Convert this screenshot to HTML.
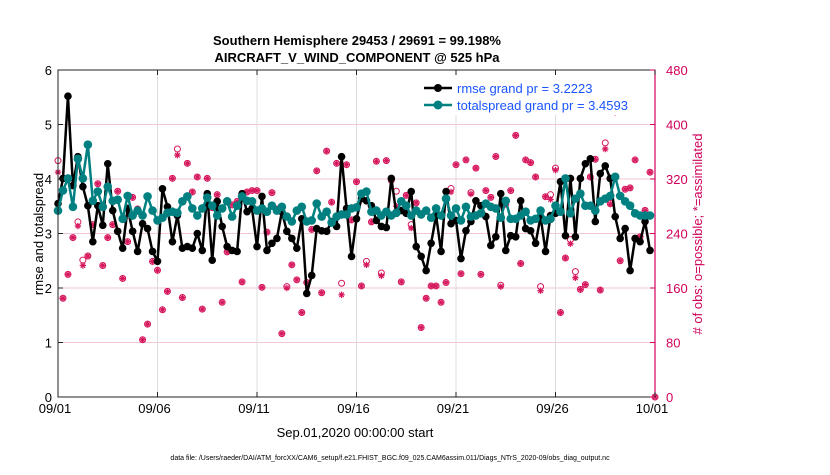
<!DOCTYPE html>
<html><head><meta charset="utf-8"><style>
body{margin:0;background:#fff;width:830px;height:470px;overflow:hidden;font-family:"Liberation Sans",sans-serif}
</style></head><body>
<svg id="chart" width="830" height="470" xmlns="http://www.w3.org/2000/svg" font-family="Liberation Sans, sans-serif">
<text x="357" y="45" text-anchor="middle" font-size="13" font-weight="bold">Southern Hemisphere 29453 / 29691 = 99.198%</text>
<text x="357" y="62" text-anchor="middle" font-size="13" font-weight="bold">AIRCRAFT_V_WIND_COMPONENT @ 525 hPa</text>
<g id="grid"></g>
<g id="obs"></g>
<g id="series"></g>
<rect x="58" y="70" width="597" height="327" fill="none" stroke="#222" stroke-width="1"/>
<line x1="655" y1="70" x2="655" y2="397" stroke="#d0005a" stroke-width="1.2"/>
<g id="axes"></g>
<text transform="translate(43,234) rotate(-90)" text-anchor="middle" font-size="13">rmse and totalspread</text>
<text transform="translate(702,234) rotate(-90)" text-anchor="middle" font-size="13" fill="#d0005a"># of obs: o=possible; *=assimilated</text>
<text x="355" y="437" text-anchor="middle" font-size="13">Sep.01,2020 00:00:00 start</text>
<text x="390" y="460" text-anchor="middle" font-size="7">data file: /Users/raeder/DAI/ATM_forcXX/CAM6_setup/f.e21.FHIST_BGC.f09_025.CAM6assim.011/Diags_NTrS_2020-09/obs_diag_output.nc</text>
<g>
<rect x="420" y="75" width="234" height="40" fill="#fff"/>
<line x1="424" y1="88" x2="452" y2="88" stroke="#000" stroke-width="2.5"/>
<circle cx="438" cy="88" r="4" fill="#000"/>
<text x="457" y="93" font-size="13" fill="#1a55ff">rmse grand pr = 3.2223</text>
<line x1="424" y1="105" x2="452" y2="105" stroke="#008080" stroke-width="2.5"/>
<circle cx="438" cy="105" r="4.5" fill="#008080"/>
<text x="457" y="110" font-size="13" fill="#1a55ff">totalspread grand pr = 3.4593</text>
</g>
</svg>
<script>
const rmse=[3.55,4.01,5.52,3.88,4.41,3.86,3.51,2.85,3.51,3.15,4.28,3.42,3.04,2.73,3.46,3.04,2.67,3.18,3.09,2.67,2.49,3.82,3.49,2.85,3.33,2.73,2.76,2.73,3.00,2.69,3.73,2.51,3.59,3.13,2.76,2.69,2.67,3.73,3.40,3.46,
2.76,3.68,2.69,2.82,2.91,3.40,3.04,2.91,2.73,3.27,1.90,2.23,3.09,3.05,3.04,3.22,3.13,4.41,3.46,2.58,3.27,3.64,3.60,3.51,3.24,3.13,3.11,4.01,3.37,3.42,3.37,3.77,2.76,2.58,2.32,2.82,3.33,2.67,3.77,3.18,
3.24,2.54,3.05,3.22,3.60,3.51,3.31,2.78,2.94,3.73,2.69,2.96,2.94,3.60,3.09,3.05,2.82,3.31,2.67,3.33,3.37,3.95,2.96,4.01,2.94,4.01,4.28,4.37,3.22,4.10,4.24,4.01,3.31,2.91,3.09,2.32,2.91,2.85,3.22,2.69];
const spread=[3.42,3.79,4.01,3.49,4.37,4.01,4.63,3.60,3.77,3.49,3.86,3.60,3.62,3.27,3.69,3.33,3.42,3.33,3.68,3.42,3.24,3.29,3.38,3.40,3.38,3.59,3.68,3.46,3.33,3.46,3.66,3.51,3.33,3.46,3.59,3.31,3.51,3.68,3.60,3.59,
3.42,3.46,3.40,3.51,3.42,3.49,3.31,3.22,3.42,3.49,3.22,3.24,3.55,3.31,3.40,3.20,3.31,3.35,3.35,3.46,3.48,3.73,3.77,3.40,3.42,3.33,3.40,3.33,3.38,3.59,3.51,3.33,3.42,3.35,3.42,3.29,3.46,3.33,3.64,3.33,
3.46,3.24,3.49,3.31,3.33,3.37,3.55,3.49,3.46,3.29,3.60,3.27,3.27,3.33,3.40,3.24,3.27,3.42,3.24,3.27,3.51,3.40,4.01,3.37,3.64,3.73,3.51,3.51,3.42,3.59,3.64,3.69,4.04,3.69,3.59,3.51,3.37,3.33,3.33,3.33];
const possible=[347,145,180,234,257,201,207,253,313,193,234,253,302,174,228,293,276,84,107,199,186,128,155,321,364,146,343,301,323,129,321,278,297,139,213,282,287,169,301,303,
303,161,242,300,276,93,162,194,172,124,168,246,332,153,361,286,343,167,341,260,316,163,199,257,346,182,347,318,302,169,296,253,285,102,145,163,163,139,168,306,
341,181,348,300,336,180,303,293,353,164,283,303,384,196,348,344,323,162,294,297,336,124,204,231,184,158,165,323,349,157,373,284,420,200,305,307,348,235,274,330,0];
const assimilated=[330,145,180,234,251,193,207,253,313,193,234,253,302,174,228,293,276,84,107,199,186,128,155,321,355,146,343,301,323,129,321,278,297,139,213,282,287,169,301,303,
303,161,242,300,276,93,160,194,172,124,168,246,332,153,361,286,343,150,341,260,316,163,194,257,346,178,347,318,280,169,296,248,285,102,145,163,163,139,168,301,
341,181,348,298,336,180,303,293,353,162,283,303,384,196,348,344,323,156,294,290,333,124,204,225,175,158,165,323,349,157,364,283,418,200,305,307,348,235,274,330,0];
const leftTicks=[0,1,2,3,4,5,6];
const rightTicks=[0,80,160,240,320,400,480];
const xTickDays=[0,5,10,15,20,25,30];
const xTickLabels=["09/01","09/06","09/11","09/16","09/21","09/26","10/01"];

const NS="http://www.w3.org/2000/svg";
const X0=58,X1=655,Y0=397,Y1=70;
const xd=d=>X0+(d/30)*(X1-X0);
const xi=i=>xd(i*0.25);
const yl=v=>Y0-(v/6)*(Y0-Y1);
const yr=v=>Y0-(v/480)*(Y0-Y1);
function mk(tag,attrs,parent){const e=document.createElementNS(NS,tag);for(const k in attrs)e.setAttribute(k,attrs[k]);parent.appendChild(e);return e;}
const grid=document.getElementById('grid'),axes=document.getElementById('axes'),obs=document.getElementById('obs'),ser=document.getElementById('series');

leftTicks.forEach(t=>{
  if(t>0&&t<6){const g=mk('line',{x1:X0,x2:X1,y1:yl(t),y2:yl(t),stroke:'#f2c6d6','stroke-width':1},grid);
  
  }
  mk('line',{x1:X0,x2:X0+5,y1:yl(t),y2:yl(t),stroke:'#222'},axes);
  const tx=mk('text',{x:X0-6,y:yl(t)+5,'text-anchor':'end','font-size':13},axes);
  tx.textContent=t;
  
  
});
rightTicks.forEach(t=>{
  mk('line',{x1:X1-5,x2:X1,y1:yr(t),y2:yr(t),stroke:'#d0005a'},axes);
  const tx=mk('text',{x:X1+11,y:yr(t)+5,'font-size':13,fill:'#d0005a'},axes);
  tx.textContent=t;
  
  
});
xTickDays.forEach((d,k)=>{
  if(d>0&&d<30){const g=mk('line',{x1:xd(d),x2:xd(d),y1:Y1,y2:Y0,stroke:'#dcdcdc'},grid);
  
  }
  mk('line',{x1:xd(d),x2:xd(d),y1:Y0,y2:Y0-5,stroke:'#222'},axes);
  mk('line',{x1:xd(d),x2:xd(d),y1:Y1,y2:Y1+5,stroke:'#222'},axes);
  const tx=mk('text',{x:xd(d)-3,y:Y0+16,'text-anchor':'middle','font-size':13},axes);
  tx.textContent=xTickLabels[k];
  
  
});

const C='#d6185e';
possible.forEach((v,i)=>{
  const c=mk('circle',{cx:xi(i),cy:yr(v),r:3,fill:'none',stroke:C,'stroke-width':1},obs);
  
  
});
assimilated.forEach((v,i)=>{
  const x=xi(i),y=yr(v),s=3.2;
  const p=mk('path',{d:`M${x-s} ${y}H${x+s}M${x} ${y-s}V${y+s}M${x-s*.7} ${y-s*.7}L${x+s*.7} ${y+s*.7}M${x-s*.7} ${y+s*.7}L${x+s*.7} ${y-s*.7}`,stroke:C,'stroke-width':1.2},obs);
  
  
});

function series(arr,color,name,r){
  const l=mk('polyline',{points:arr.map((v,i)=>xi(i)+','+yl(v)).join(' '),fill:'none',stroke:color,'stroke-width':2.5,'stroke-linejoin':'round'},ser);
  
  
  arr.forEach((v,i)=>{
    const c=mk('circle',{cx:xi(i),cy:yl(v),r:r,fill:color},ser);
    
    
  });
}
series(rmse,'#000','rmse',3.8);
series(spread,'#008080','totalspread',4.3);
</script>
</body></html>
